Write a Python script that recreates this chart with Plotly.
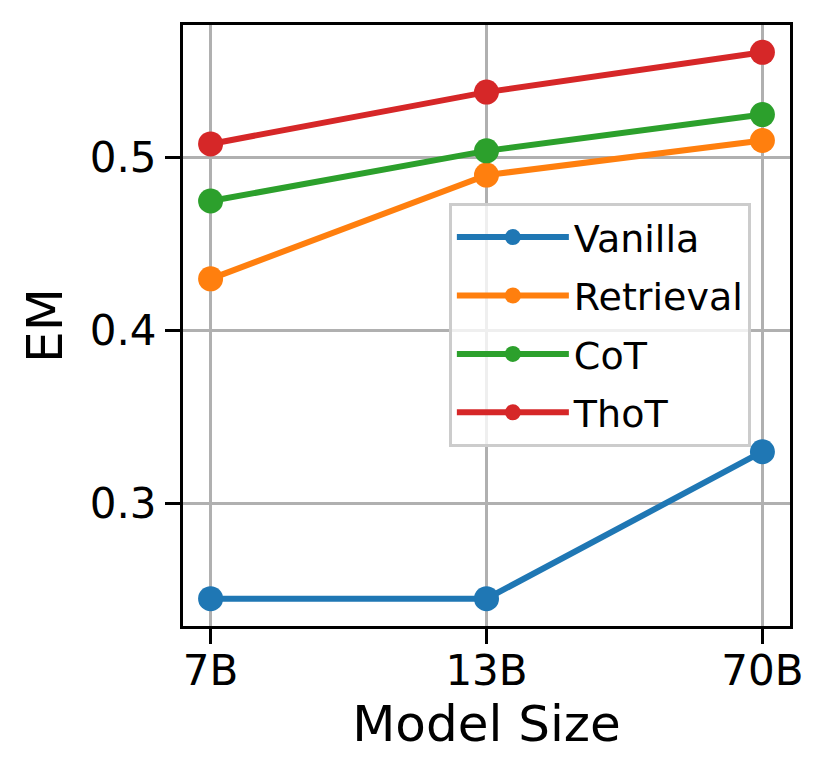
import plotly.graph_objects as go

model_sizes = ["7B", "13B", "70B"]
vanilla = [0.245, 0.245, 0.330]
retrieval = [0.430, 0.490, 0.510]
cot = [0.475, 0.504, 0.525]
thot = [0.508, 0.538, 0.561]

series = [
    ("Vanilla", vanilla, "#1f77b4"),
    ("Retrieval", retrieval, "#ff7f0e"),
    ("CoT", cot, "#2ca02c"),
    ("ThoT", thot, "#d62728"),
]

y_ticks = [0.3, 0.4, 0.5]

FONT = "DejaVu Sans"

fig = go.Figure()
for name, vals, color in series:
    fig.add_trace(go.Scatter(
        x=list(range(len(model_sizes))), y=vals, name=name, mode="lines+markers",
        legendgroup=name,
        line=dict(color=color, width=6),
        marker=dict(color=color, size=25),
    ))

fig.update_layout(
    width=821, height=775,
    margin=dict(l=175, r=39, t=17, b=157),
    paper_bgcolor="white", plot_bgcolor="white",
    font=dict(family=FONT, color="black"),
    showlegend=True,
    legend=dict(
        x=0.438, y=0.704, xanchor="left", yanchor="top",
        bgcolor="rgba(255,255,255,0.8)", bordercolor="#cccccc", borderwidth=3,
        font=dict(size=38, family=FONT, color="black"),
        itemwidth=112, traceorder="grouped", tracegroupgap=6,
    ),
)
fig.update_xaxes(
    range=[-0.1, 2.1],
    tickvals=list(range(len(model_sizes))), ticktext=model_sizes,
    showgrid=True, gridcolor="#b0b0b0", gridwidth=3,
    showline=True, linecolor="black", linewidth=3, mirror=True,
    ticks="outside", ticklen=15, tickwidth=3, tickcolor="black",
    tickfont=dict(size=42, family=FONT),
    ticklabelstandoff=-9,
    title=dict(text="Model Size", font=dict(size=50, family=FONT), standoff=12),
    zeroline=False,
)
fig.update_yaxes(
    range=[0.2292, 0.5768],
    tickvals=y_ticks, ticktext=[f"{v:.1f}" for v in y_ticks],
    showgrid=True, gridcolor="#b0b0b0", gridwidth=3,
    showline=True, linecolor="black", linewidth=3, mirror=True,
    ticks="outside", ticklen=15, tickwidth=3, tickcolor="black",
    tickfont=dict(size=42, family=FONT),
    title=dict(text="EM", font=dict(size=50, family=FONT), standoff=12),
    zeroline=False,
)

fig.write_html("out.html")
